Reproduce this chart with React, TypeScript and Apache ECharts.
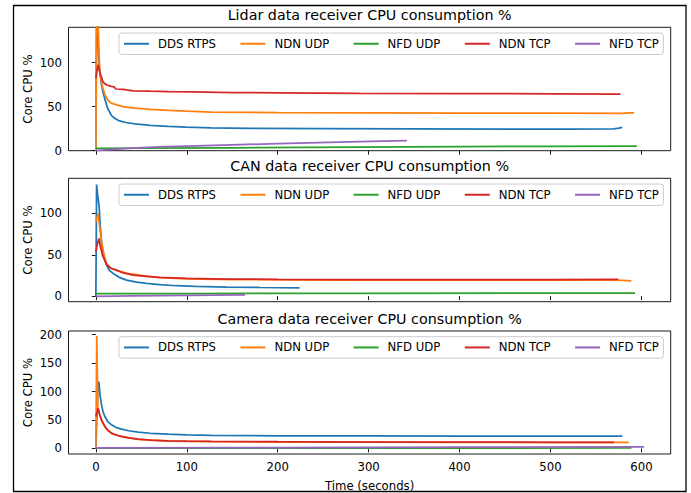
import React, { useEffect, useRef } from "react";
import * as echarts from "echarts";

const seriesNames = ["DDS RTPS", "NDN UDP", "NFD UDP", "NDN TCP", "NFD TCP"];
const colors = ["#1f77b4", "#ff7f0e", "#2ca02c", "#d62728", "#9467bd"];
const titles = [
  "Lidar data receiver CPU consumption %",
  "CAN data receiver CPU consumption %",
  "Camera data receiver CPU consumption %",
];
const xTicks = [0, 100, 200, 300, 400, 500, 600];
const yTicksLidar = [0, 50, 100];
const yTicksCan = [0, 50, 100];
const yTicksCamera = [0, 50, 100, 150, 200];

// Lidar panel
const lidarDDS = [[0,0],[1,170],[2,140],[3,110],[4,92],[6,76],[8,66],[10,58],[13,48],[17,40],[21,36.5],[25,34.2],[33,32],[43,30.5],[60,28.8],[80,27.6],[100,26.7],[127,25.8],[170,25.3],[250,25],[350,24.8],[450,24.6],[520,24.6],[570,24.8],[575,25.5],[579,26.5]];
const lidarNDNUDP = [[0,0],[1,250],[2,180],[2.5,142],[3.5,110],[4.4,90],[6,78],[8,70],[10.5,62],[13.5,57],[17,54],[23,52],[30,50],[43,48.3],[60,47],[80,45.7],[100,44.8],[127,43.8],[200,43.2],[300,42.9],[400,42.6],[500,42.5],[580,42.4],[586,43],[592,42.8]];
const lidarNFDUDP = [[0,2.5],[50,2.8],[150,3.3],[290,4.1],[400,4.6],[500,5],[595,5.2]];
const lidarNDNTCP = [[0,82],[1,90],[2.5,97.7],[4,90],[6.3,83],[8,77.7],[12,74.5],[17,73],[20,72.5],[22,70],[30,69.5],[41,68],[60,67.5],[80,67],[107,66.7],[150,66],[200,65.6],[290,65],[400,64.8],[500,64.5],[577,64.3]];
const lidarNFDTCP = [[0,0],[10,1],[40,2.8],[70,4.2],[140,6.4],[200,8],[290,10.2],[342,11.3]];

// CAN panel
const canDDS = [[0,0],[0.8,135],[2,122],[3.6,108],[5,82],[6.5,62],[8,49.6],[11.7,37.5],[15,31],[19,27.4],[25,23],[33.7,19.3],[45,16.8],[55.7,15.3],[70,14],[88.7,12.5],[110,11.8],[143.7,10.9],[180,10.4],[224,10]];
const canNDNUDP = [[0,90],[2.5,100],[4,85],[6.3,65.7],[9,50],[11.7,39.5],[16,34],[22.7,31],[35,27.5],[50,25],[70,22.2],[100,20.8],[150,20],[250,19.4],[350,19.3],[450,19.2],[574,19.4],[589,18.5]];
const canNFDUDP = [[0,3],[100,3.1],[300,3.3],[500,3.5],[593,3.6]];
const canNDNTCP = [[0,53.6],[1.5,62],[3.3,69.8],[5,60],[7.3,49.6],[11.7,38.3],[16,34],[22.7,31.4],[30,28],[41,25.4],[55,23.8],[70,22.6],[100,21.5],[143.7,20.6],[200,20.3],[290,20],[400,20],[500,20],[574.5,20.2]];
const canNFDTCP = [[0,-0.5],[40,0.2],[100,0.8],[164,1.5]];

// Camera panel
const camDDS = [[0,0],[2,100],[3.3,117.5],[4.5,95],[6.2,76.5],[8,64],[9.9,56],[13,47],[17.2,41.4],[22,37],[28.3,33.9],[36,31],[46.5,28.6],[60,26.6],[79.5,25],[100,23.8],[127,22.8],[200,22.2],[300,21.9],[400,21.7],[500,21.6],[579,21.6]];
const camNDNUDP = [[0,0],[1,198],[2.2,72],[3,68],[4.5,58],[6.2,49],[9.9,38],[17.2,26.3],[28.3,20.5],[46.5,15.8],[79.5,12.8],[127,11.8],[200,11.2],[300,10.9],[400,10.7],[500,10.5],[570,10.4],[586,10.5]];
const camNFDUDP = [[0,0.5],[300,0.6],[589,0.7]];
const camNDNTCP = [[0,56],[1.2,64],[2.5,70.7],[4,60],[6.2,50],[9.9,38.6],[13,32],[17.2,26.8],[22,23.5],[28.3,21],[36,18.5],[46.5,16.3],[60,14.6],[79.5,13.3],[100,12.8],[127,12.3],[200,11.7],[300,11.2],[400,10.9],[500,10.7],[570,10.5]];
const camNFDTCP = [[0,0.8],[200,1.4],[400,2.1],[603,2.8]];

const panels = [
  [lidarDDS, lidarNDNUDP, lidarNFDUDP, lidarNDNTCP, lidarNFDTCP],
  [canDDS, canNDNUDP, canNFDUDP, canNDNTCP, canNFDTCP],
  [camDDS, camNDNUDP, camNFDUDP, camNDNTCP, camNFDTCP],
];
const yTicks = [yTicksLidar, yTicksCan, yTicksCamera];
const yRanges = [[0, 140], [-6.8, 142.5], [-9.9, 206.5]];

const FONT = "DejaVu Sans";
const gridTops = [27.3, 178.3, 331];
const gridH = 123.4;
const gridLeft = 68.5;
const gridW = 602.2;

export default function App() {
  const ref = useRef<HTMLDivElement>(null);
  useEffect(() => {
    const chart = echarts.init(ref.current!, null, { renderer: "svg" });
    const grids = gridTops.map((t) => ({
      left: gridLeft, top: t, width: gridW, height: gridH,
      show: true, borderColor: "#000", borderWidth: 0.9, backgroundColor: "transparent",
      containLabel: false,
    }));
    const xAxes = gridTops.map((_, i) => ({
      type: "value", gridIndex: i, min: -30.1, max: 632.2,
      axisLine: { show: false },
      splitLine: { show: false },
      axisTick: { show: true, inside: false, length: 4, customValues: xTicks, lineStyle: { color: "#000", width: 0.9 } },
      axisLabel: { show: i === 2, customValues: xTicks, color: "#000", fontSize: 11.7, fontFamily: FONT, margin: 7 },
      name: i === 2 ? "Time (seconds)" : "",
      nameLocation: "middle", nameGap: 26, nameMoveOverlap: false,
      nameTextStyle: { color: "#000", fontSize: 11.7, fontFamily: FONT },
    }));
    const yAxes = gridTops.map((_, i) => ({
      type: "value", gridIndex: i, min: yRanges[i][0], max: yRanges[i][1],
      axisLine: { show: false },
      splitLine: { show: false },
      axisTick: { show: true, inside: false, length: 4, customValues: yTicks[i], lineStyle: { color: "#000", width: 0.9 } },
      axisLabel: { customValues: yTicks[i], color: "#000", fontSize: 11.7, fontFamily: FONT, margin: 6.5 },
      name: "Core CPU %", nameLocation: "middle", nameRotate: 90, nameGap: 35, nameMoveOverlap: false,
      nameTextStyle: { color: "#000", fontSize: 11.7, fontFamily: FONT },
    }));
    const series: any[] = [];
    panels.forEach((p, i) => {
      p.forEach((d, k) => {
        series.push({
          type: "line", name: seriesNames[k], xAxisIndex: i, yAxisIndex: i,
          data: d, symbol: "none", showSymbol: false,
          lineStyle: { color: colors[k], width: 1.75 }, itemStyle: { color: colors[k] },
          clip: true, z: 2 + k,
        });
      });
    });
    const titleOpts = titles.map((t, i) => ({
      text: t, left: gridLeft + gridW / 2, textAlign: "center", top: gridTops[i] - 19.5,
      textStyle: { color: "#000", fontSize: 14.3, fontWeight: "normal", fontFamily: FONT },
      padding: 0,
    }));
    const legends = gridTops.map((t) => ({
      data: seriesNames, left: 119, top: t + 5.7, orient: "horizontal",
      itemWidth: 25, itemHeight: 13.5, itemGap: 23.4,
      padding: [4, 4.5, 4, 4],
      itemStyle: { opacity: 0 },
      backgroundColor: "rgba(255,255,255,0.8)", borderColor: "#cccccc", borderWidth: 1, borderRadius: 3,
      textStyle: { color: "#000", fontSize: 11.7, fontFamily: FONT, lineHeight: 13.5, padding: [0, 0, 0, 4] },
      selectedMode: false,
    }));
    chart.setOption({
      animation: false,
      backgroundColor: "#fff",
      title: titleOpts,
      legend: legends,
      grid: grids,
      xAxis: xAxes,
      yAxis: yAxes,
      series,
      graphic: [{
        type: "rect", shape: { x: 13.5, y: 5.5, width: 672.5, height: 486 },
        style: { fill: "none", stroke: "#000", lineWidth: 1.3 }, z: 100, silent: true,
      }],
    });
    return () => chart.dispose();
  }, []);
  return <div ref={ref} style={{ position: "fixed", left: 0, top: 0, width: 691, height: 493 }} />;
}
